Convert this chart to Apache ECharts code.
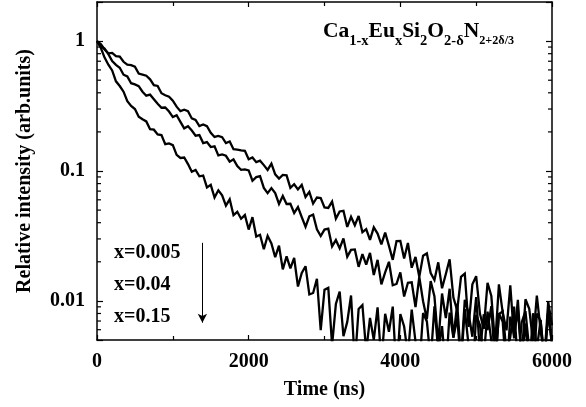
<!DOCTYPE html>
<html><head><meta charset="utf-8">
<script src="https://cdn.jsdelivr.net/npm/echarts@6/dist/echarts.min.js"></script>
<style>html,body{margin:0;padding:0;background:#fff}#c{width:586px;height:407px}</style>
</head><body><div id="c"></div>
<script>
// Time axis samples (ns)
const times = [0,50,100,150,200,250,300,350,400,450,500,550,600,650,700,750,800,850,900,950,1000,1050,1100,1150,1200,1250,1300,1350,1400,1450,1500,1550,1600,1650,1700,1750,1800,1850,1900,1950,2000,2050,2100,2150,2200,2250,2300,2350,2400,2450,2500,2550,2600,2650,2700,2750,2800,2850,2900,2950,3000,3050,3100,3150,3200,3250,3300,3350,3400,3450,3500,3550,3600,3650,3700,3750,3800,3850,3900,3950,4000,4050,4100,4150,4200,4250,4300,4350,4400,4450,4500,4550,4600,4650,4700,4750,4800,4850,4900,4950,5000,5050,5100,5150,5200,5250,5300,5350,5400,5450,5500,5550,5600,5650,5700,5750,5800,5850,5900,5950,6000];

// Relative intensity, x = 0.005
const decay_x0005 = [1.000,0.950,0.862,0.804,0.811,0.767,0.761,0.693,0.658,0.652,0.636,0.562,0.552,0.541,0.508,0.458,0.452,0.397,0.383,0.373,
0.348,0.313,0.289,0.296,0.289,0.254,0.247,0.222,0.228,0.221,0.197,0.183,0.186,0.182,0.164,0.169,0.147,0.146,0.144,0.143,
0.123,0.127,0.117,0.120,0.111,0.102,0.114,0.0942,0.0875,0.0933,0.0925,0.0741,0.0791,0.0721,0.0783,0.0631,0.0690,0.0561,0.0625,0.0619,
0.0525,0.0520,0.0582,0.0430,0.0488,0.0494,0.0371,0.0444,0.0382,0.0451,0.0338,0.0357,0.0295,0.0368,0.0330,0.0272,0.0336,0.0265,0.0207,0.0289,
0.0290,0.0212,0.0279,0.0180,0.0218,0.0153,0.0223,0.0232,0.0164,0.0145,0.0198,0.0125,0.0161,0.0209,0.0106,0.00845,0.0153,0.0162,0.00630,0.0134,
0.0155,0.00796,0.00610,0.0138,0.0109,0.00461,0.0134,0.00813,0.00593,0.0132,0.00514,0.0102,0.00352,0.0103,0.00869,0.00483,0.0110,0.00593,0.00361,0.00982,
0.00650];

// Relative intensity, x = 0.04
const decay_x004 = [1.000,0.910,0.875,0.793,0.702,0.656,0.624,0.551,0.534,0.474,0.464,0.450,0.408,0.380,0.387,0.357,0.329,0.307,0.308,0.287,
0.260,0.269,0.239,0.213,0.221,0.205,0.187,0.189,0.164,0.167,0.153,0.155,0.132,0.134,0.131,0.118,0.123,0.109,0.102,0.103,
0.101,0.0841,0.0897,0.0914,0.0741,0.0675,0.0738,0.0676,0.0558,0.0643,0.0557,0.0559,0.0475,0.0527,0.0441,0.0372,0.0448,0.0461,0.0356,0.0316,
0.0354,0.0360,0.0263,0.0294,0.0254,0.0303,0.0219,0.0247,0.0249,0.0183,0.0229,0.0190,0.0234,0.0158,0.0207,0.0134,0.0166,0.0200,0.0132,0.0135,
0.0166,0.0108,0.0138,0.0139,0.00897,0.0153,0.00995,0.00723,0.0142,0.0108,0.00466,0.0114,0.00736,0.0124,0.00521,0.00948,0.00352,0.0102,0.00805,0.00530,
0.0107,0.00400,0.00789,0.00596,0.00912,0.00310,0.00791,0.00830,0.00400,0.00527,0.00904,0.00321,0.00682,0.00836,0.00421,0.00259,0.00798,0.00703,0.00356,0.00832,
0.00447];

// Relative intensity, x = 0.15
const decay_x015 = [1.000,0.889,0.746,0.658,0.594,0.490,0.451,0.408,0.345,0.317,0.300,0.262,0.250,0.241,0.210,0.208,0.191,0.189,0.161,0.163,
0.158,0.133,0.126,0.127,0.113,0.0987,0.102,0.0911,0.0923,0.0748,0.0782,0.0625,0.0710,0.0650,0.0541,0.0605,0.0457,0.0485,0.0429,0.0458,
0.0354,0.0441,0.0313,0.0323,0.0250,0.0317,0.0277,0.0217,0.0266,0.0175,0.0220,0.0178,0.0214,0.0129,0.0164,0.0185,0.0112,0.0115,0.0148,0.00596,
0.0122,0.0126,0.00455,0.00946,0.0118,0.00535,0.00689,0.0110,0.00328,0.00867,0.00927,0.00408,0.00740,0.00501,0.00891,0.00334,0.00796,0.00579,0.00904,0.00267,
0.00793,0.00635,0.00382,0.00857,0.00485,0.00301,0.00807,0.00695,0.00347,0.00910,0.00411,0.00640,0.00280,0.00813,0.00522,0.00743,0.00324,0.00863,0.00452,0.00243,
0.00780,0.00652,0.00369,0.00828,0.00492,0.00305,0.00804,0.00692,0.00264,0.00757,0.00541,0.00853,0.00352,0.00671,0.00290,0.00804,0.00426,0.00713,0.00320,0.00828,
0.00469];

const seriesLabels = ['x=0.005', 'x=0.04', 'x=0.15'];
const yMajorLabels = ['0.01', '0.1', '1'];
const yMinorTicks = [0.006,0.007,0.008,0.009,0.02,0.03,0.04,0.05,0.06,0.07,0.08,0.09,0.2,0.3,0.4,0.5,0.6,0.7,0.8,0.9];
const arrowFrom = [1390, 0.028];
const arrowTo = [1390, 0.0068];

const F = "'Liberation Serif','Times New Roman',serif";
const txt = {fontFamily: F, fontWeight: 'bold', fontSize: 20, color: '#000'};
const lineBlack = {color: '#000', width: 1.5};

const chart = echarts.init(document.getElementById('c'), null, {renderer: 'canvas'});
const pair = ys => times.map((t, i) => [t, ys[i]]);

const xBase = {
  type: 'value', min: 0, max: 6000, interval: 2000,
  axisLine: {show: true, onZero: false, lineStyle: lineBlack},
  axisTick: {show: true, inside: true, length: 5, lineStyle: {color: '#000', width: 1.2}},
  minorTick: {show: true, splitNumber: 2, length: 4, lineStyle: {color: '#000', width: 1.2}},
  splitLine: {show: false}, minorSplitLine: {show: false}
};
const yBase = {
  type: 'log', logBase: 10, min: 0.005, max: 2,
  axisLine: {show: true, onZero: false, lineStyle: lineBlack},
  axisTick: {show: true, inside: true, length: 6, lineStyle: {color: '#000', width: 1.2}},
  splitLine: {show: false}
};
const isMajor = v => {
  const s = String(Number(v.toPrecision(3)));
  return yMajorLabels.indexOf(s) >= 0 ? s : '';
};

const lineSeries = [decay_x0005, decay_x004, decay_x015].map((d, i) => ({
  type: 'line', name: seriesLabels[i], data: pair(d), symbol: 'none', clip: true,
  lineStyle: {color: '#000', width: 2.3, join: 'miter', miterLimit: 3}, xAxisIndex: 0, yAxisIndex: 0, z: 3,
  markLine: i === 0 ? {
    silent: true, symbol: ['none', 'arrow'], symbolSize: [7, 9],
    lineStyle: {color: '#000', width: 1, type: 'solid'}, label: {show: false},
    data: [[{coord: arrowFrom}, {coord: arrowTo}]]
  } : undefined
}));

const subStyle = {fontFamily: F, fontWeight: 'bold', fontSize: 14.5, color: '#000', lineHeight: 16, padding: [14, 0, 0, 0], verticalAlign: 'top'};

const option = {
  animation: false,
  backgroundColor: '#fff',
  grid: {left: 97, top: 2, width: 455, height: 338},
  title: {
    left: 318, top: 15,
    text: '{m|Ca}{s|1-x}{m|Eu}{s|x}{m|Si}{s|2}{m|O}{s|2-δ}{m|N}{t|2+2δ/3}',
    textStyle: {
      rich: {
        m: {fontFamily: F, fontWeight: 'bold', fontSize: 21.5, color: '#000', lineHeight: 24, verticalAlign: 'top'},
        s: subStyle,
        t: Object.assign({}, subStyle, {fontSize: 12.2, padding: [15, 0, 0, 0]})
      }
    }
  },
  xAxis: [
    Object.assign({}, xBase, {
      position: 'bottom',
      axisLabel: Object.assign({}, txt, {margin: 12, formatter: v => String(v)}),
      name: 'Time (ns)', nameLocation: 'middle', nameGap: 40, nameTextStyle: txt
    }),
    Object.assign({}, xBase, {position: 'top', axisLabel: {show: false}})
  ],
  yAxis: [
    Object.assign({}, yBase, {
      position: 'left',
      axisLabel: Object.assign({}, txt, {margin: 12, formatter: isMajor}),
      name: 'Relative intensity (arb.units)', nameLocation: 'middle', nameGap: 62, nameTextStyle: txt
    }),
    Object.assign({}, yBase, {position: 'right', axisLabel: {show: false}})
  ],
  graphic: seriesLabels.map((s, i) => ({
    type: 'text', x: 114, y: 253 + i * 32,
    style: {text: s, font: "bold 20px 'Liberation Serif', serif", fill: '#000', verticalAlign: 'middle'}
  })),
  series: lineSeries.concat([{
    type: 'custom', silent: true, xAxisIndex: 0, yAxisIndex: 0, z: 5,
    data: yMinorTicks.map(v => [0, v]), encode: {x: 0, y: 1},
    renderItem: (params, api) => {
      const v = api.value(1);
      const pL = api.coord([0, v]);
      const pR = api.coord([6000, v]);
      const st = {stroke: '#000', lineWidth: 1.2};
      return {type: 'group', children: [
        {type: 'line', shape: {x1: pL[0], y1: pL[1], x2: pL[0] + 4, y2: pL[1]}, style: st},
        {type: 'line', shape: {x1: pR[0] - 4, y1: pR[1], x2: pR[0], y2: pR[1]}, style: st}
      ]};
    }
  }])
};
chart.setOption(option);
</script>
</body></html>
